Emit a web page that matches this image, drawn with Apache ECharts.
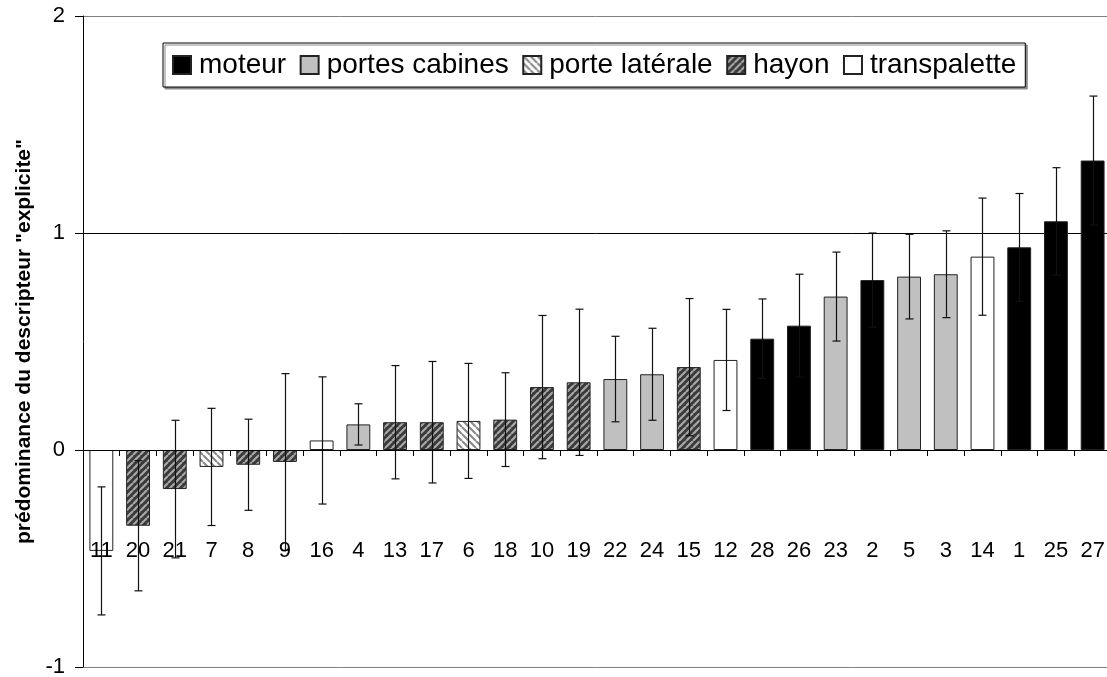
<!DOCTYPE html>
<html>
<head>
<meta charset="utf-8">
<script src="https://cdn.jsdelivr.net/npm/echarts@6/dist/echarts.min.js"></script>
<style>
  html, body { margin: 0; padding: 0; background: #fff; }
  #chart { width: 1107px; height: 677px; }
</style>
</head>
<body>
<div id="chart"></div>
<script>
// Descriptor categories, in plotted order
const categories = ['11','20','21','7','8','9','16','4','13','17','6','18','10','19',
                    '22','24','15','12','28','26','23','2','5','3','14','1','25','27'];
// Mean predominance of the "explicite" descriptor
const values = [-0.465,-0.349,-0.180,-0.078,-0.068,-0.055,0.044,0.118,0.128,0.128,0.134,0.140,0.290,0.312,
                0.327,0.349,0.382,0.415,0.513,0.573,0.707,0.783,0.799,0.810,0.891,0.934,1.054,1.334];
// Half-width of each error bar
const errors = [0.295,0.300,0.317,0.270,0.210,0.407,0.293,0.095,0.261,0.280,0.265,0.216,0.330,0.337,
                0.197,0.212,0.316,0.233,0.183,0.237,0.205,0.217,0.195,0.200,0.270,0.248,0.247,0.297];
// Sound source of each descriptor
const sources = ['transpalette','hayon','hayon','porte latérale','hayon','hayon','transpalette','portes cabines',
                 'hayon','hayon','porte latérale','hayon','hayon','hayon','portes cabines','portes cabines',
                 'hayon','transpalette','moteur','moteur','portes cabines','moteur','portes cabines',
                 'portes cabines','transpalette','moteur','moteur','moteur'];
const sourceNames = ['moteur','portes cabines','porte latérale','hayon','transpalette'];
const yTicks = [-1, 0, 1, 2];

// Diagonal hatch fill built on a small repeating canvas tile
function hatch(bg, fg, forward) {
  const s = 7, c = document.createElement('canvas');
  c.width = c.height = s;
  const g = c.getContext('2d');
  g.fillStyle = bg; g.fillRect(0, 0, s, s);
  g.strokeStyle = fg; g.lineWidth = 2.2;
  g.beginPath();
  for (const o of [-s, 0, s]) {
    if (forward) { g.moveTo(o, s); g.lineTo(o + s, 0); }
    else { g.moveTo(o, 0); g.lineTo(o + s, s); }
  }
  g.stroke();
  return { image: c, repeat: 'repeat' };
}

const fills = {
  'moteur': '#000000',
  'portes cabines': '#c0c0c0',
  'porte latérale': hatch('#ffffff', '#8c8c8c', false),
  'hayon': hatch('#3a3a3a', '#a8a8a8', true),
  'transpalette': '#ffffff'
};

const barSeries = sourceNames.map(name => ({
  name: name,
  type: 'bar',
  barWidth: '65%',
  barGap: '-100%',
  data: values.map((v, i) => sources[i] === name ? v : '-'),
  itemStyle: { color: fills[name], borderColor: '#222', borderWidth: 1 },
  emphasis: { disabled: true },
  z: 2
}));

const errorSeries = {
  type: 'custom',
  name: 'err',
  data: values.map((v, i) => [i, v - errors[i], v + errors[i]]),
  renderItem: function (params, api) {
    const lo = api.coord([api.value(0), api.value(1)]);
    const hi = api.coord([api.value(0), api.value(2)]);
    const x = Math.round(lo[0]) + 0.5, h = 4;
    const st = { stroke: '#111', lineWidth: 1.2 };
    return {
      type: 'group',
      children: [
        { type: 'line', shape: { x1: x, y1: lo[1], x2: x, y2: hi[1] }, style: st },
        { type: 'line', shape: { x1: x - h, y1: lo[1], x2: x + h, y2: lo[1] }, style: st },
        { type: 'line', shape: { x1: x - h, y1: hi[1], x2: x + h, y2: hi[1] }, style: st }
      ]
    };
  },
  z: 3,
  silent: true
};

const chart = echarts.init(document.getElementById('chart'), null, { renderer: 'canvas' });
chart.setOption({
  animation: false,
  backgroundColor: '#fff',
  textStyle: { fontFamily: 'Liberation Sans, Arial, sans-serif', color: '#000' },
  grid: { left: 83, right: -4, top: 16, bottom: 10, containLabel: false, outerBoundsMode: 'none' },
  legend: {
    data: sourceNames,
    left: 163, top: 43,
    orient: 'horizontal',
    padding: [8, 9, 8, 9],
    itemWidth: 18, itemHeight: 18, itemGap: 13.5,
    icon: 'rect',
    borderColor: '#000', borderWidth: 1,
    backgroundColor: '#fff',
    shadowColor: '#8a8a8a', shadowOffsetX: 2, shadowOffsetY: 2, shadowBlur: 0,
    textStyle: { fontSize: 28, lineHeight: 28, color: '#000', fontFamily: 'Liberation Sans, Arial, sans-serif', padding: [0, 0, 0, 3] },
    selectedMode: false
  },
  xAxis: {
    type: 'category',
    data: categories,
    axisLine: { onZero: true, lineStyle: { color: '#000', width: 1 } },
    axisTick: { show: true, interval: 0, length: 6, lineStyle: { color: '#000' } },
    // category labels sit in a row below the bars, measured up from the plot's bottom edge
    axisLabel: { interval: 0, margin: -127, fontSize: 22, color: '#000', hideOverlap: false,
                 showMinLabel: true, showMaxLabel: true },
    splitLine: { show: false },
    z: 5
  },
  yAxis: {
    type: 'value',
    min: yTicks[0], max: yTicks[yTicks.length - 1], interval: 1,
    name: 'prédominance du descripteur "explicite"',
    nameLocation: 'middle',
    nameGap: 48,
    nameTextStyle: { fontSize: 21, fontWeight: 'bold', color: '#000' },
    axisLine: { show: true, lineStyle: { color: '#000', width: 1 } },
    axisTick: { show: true, length: 8, lineStyle: { color: '#000' } },
    axisLabel: { fontSize: 22, color: '#000', margin: 18 },
    splitLine: { show: true, lineStyle: { color: ['#808080', '#000', '#000', '#808080'], width: 1 } }
  },
  series: [...barSeries, errorSeries]
});
</script>
</body>
</html>
